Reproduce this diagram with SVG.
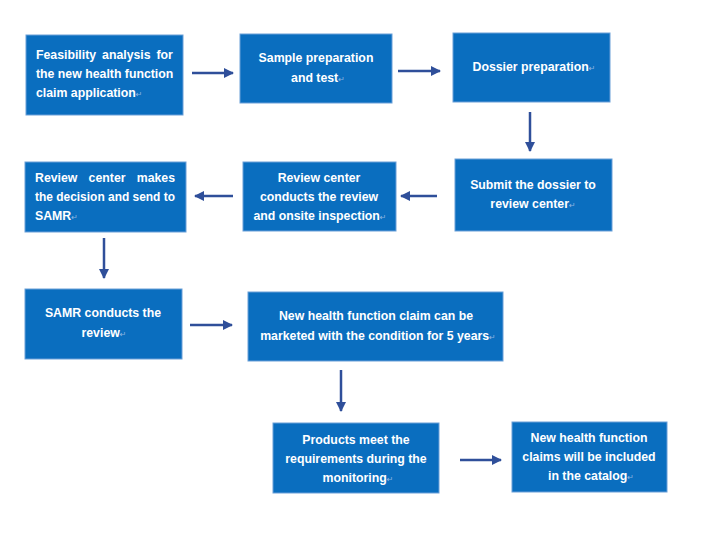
<svg xmlns="http://www.w3.org/2000/svg" width="716" height="534" viewBox="0 0 716 534">
<defs>
<marker id="ah" viewBox="0 0 10 10" refX="9" refY="5" markerWidth="4" markerHeight="4" orient="auto" markerUnits="strokeWidth">
<path d="M0,0 L10,5 L0,10 z" fill="#2f4f9a"/>
</marker>
<style>
.box{fill:#0a6ebf;stroke:#6a9fd8;stroke-width:1}
.t{font-family:"Liberation Sans",Arial,sans-serif;font-weight:bold;font-size:12.3px;fill:#ffffff}
.c{text-anchor:middle}
.r{font-family:"DejaVu Sans",sans-serif;font-weight:normal;font-size:8px;fill:#8fb6e2}
.ar{stroke:#2f4f9a;stroke-width:2.5;fill:none;marker-end:url(#ah)}
</style>
</defs>
<rect width="716" height="534" fill="#ffffff"/>
<g id="connectors">
<line class="ar" x1="192" y1="73" x2="233" y2="73"/>
<line class="ar" x1="398" y1="71" x2="440" y2="71"/>
<line class="ar" x1="530" y1="112" x2="530" y2="151"/>
<line class="ar" x1="437" y1="196" x2="401" y2="196"/>
<line class="ar" x1="233" y1="196" x2="195" y2="196"/>
<line class="ar" x1="104" y1="238" x2="104" y2="278"/>
<line class="ar" x1="190" y1="325" x2="232" y2="325"/>
<line class="ar" x1="341" y1="370" x2="341" y2="411"/>
<line class="ar" x1="460" y1="460" x2="501" y2="460"/>
</g>
<g id="n1">
<rect class="box" x="26" y="35" width="157" height="80"/>
<text class="t" x="36" y="59" word-spacing="2.5">Feasibility analysis for</text>
<text class="t" x="36" y="78">the new health function</text>
<text class="t" x="36" y="97">claim application<tspan class="r">↵</tspan></text>
</g>
<g id="n2">
<rect class="box" x="240" y="34" width="152" height="69"/>
<text class="t c" x="316" y="62">Sample preparation</text>
<text class="t c" x="318" y="82">and test<tspan class="r">↵</tspan></text>
</g>
<g id="n3">
<rect class="box" x="453" y="33" width="157" height="69"/>
<text class="t c" x="534" y="71">Dossier preparation<tspan class="r">↵</tspan></text>
</g>
<g id="n4">
<rect class="box" x="455" y="159" width="157" height="72"/>
<text class="t c" x="533" y="189">Submit the dossier to</text>
<text class="t c" x="533" y="208">review center<tspan class="r">↵</tspan></text>
</g>
<g id="n5">
<rect class="box" x="243" y="162" width="153" height="69"/>
<text class="t c" x="319" y="182">Review center</text>
<text class="t c" x="319" y="201">conducts the review</text>
<text class="t c" x="320" y="220">and onsite inspection<tspan class="r">↵</tspan></text>
</g>
<g id="n6">
<rect class="box" x="25" y="162" width="161" height="70"/>
<text class="t" x="35" y="182" word-spacing="7.8">Review center makes</text>
<text class="t" x="35" y="201" textLength="140" lengthAdjust="spacingAndGlyphs">the decision and send to</text>
<text class="t" x="35" y="220">SAMR<tspan class="r">↵</tspan></text>
</g>
<g id="n7">
<rect class="box" x="25" y="289" width="157" height="70"/>
<text class="t c" x="103" y="317">SAMR conducts the</text>
<text class="t c" x="104" y="337">review<tspan class="r">↵</tspan></text>
</g>
<g id="n8">
<rect class="box" x="248" y="292" width="255" height="69"/>
<text class="t c" x="376" y="320">New health function claim can be</text>
<text class="t c" x="378" y="340">marketed with the condition for 5 years<tspan class="r">↵</tspan></text>
</g>
<g id="n9">
<rect class="box" x="273" y="423" width="166" height="70"/>
<text class="t c" x="356" y="444">Products meet the</text>
<text class="t c" x="356" y="463">requirements during the</text>
<text class="t c" x="358" y="482">monitoring<tspan class="r">↵</tspan></text>
</g>
<g id="n10">
<rect class="box" x="512" y="422" width="155" height="70"/>
<text class="t c" x="589" y="442">New health function</text>
<text class="t c" x="589" y="461">claims will be included</text>
<text class="t c" x="591" y="480">in the catalog<tspan class="r">↵</tspan></text>
</g>
</svg>
